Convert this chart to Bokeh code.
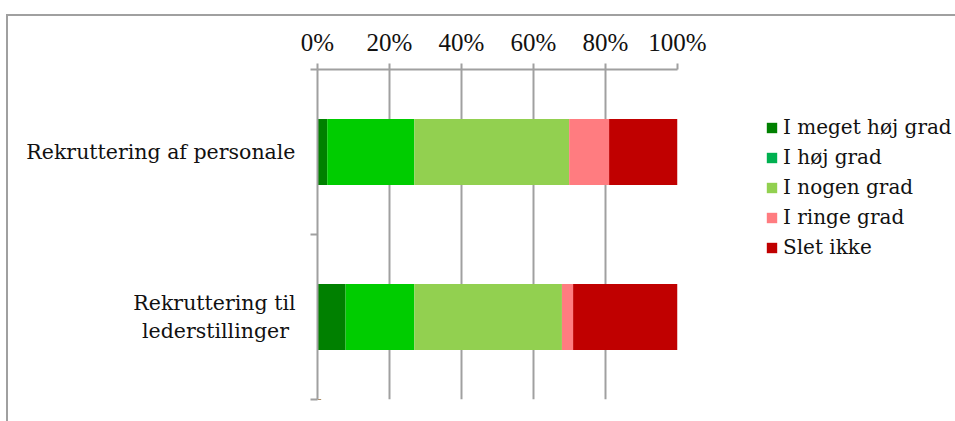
from bokeh.plotting import figure
from bokeh.models import (Range1d, LinearAxis, FixedTicker, Legend, LegendItem, Grid)
from bokeh.embed import file_html
from bokeh.resources import INLINE

# ---- data ----
categories = ["Rekruttering til\nlederstillinger\u00a0", "Rekruttering af personale"]
series = ["I meget høj grad", "I høj grad", "I nogen grad", "I ringe grad", "Slet ikke"]
meget_hoej = [7.8, 2.7]
hoej = [19.1, 24.2]
nogen = [41.0, 43.0]
ringe = [3.1, 11.1]
slet = [29.0, 19.0]
x_ticks = [0, 20, 40, 60, 80, 100]
x_tick_labels = ["0%", "20%", "40%", "60%", "80%", "100%"]

bar_colors = ["#008000", "#00CC00", "#92D050", "#FF7C80", "#C00000"]
legend_colors = ["#008000", "#00B050", "#92D050", "#FF7C80", "#C00000"]

SERIF_LBL = "DejaVu Serif"
SERIF_TICK = "Liberation Serif"

ypos = [0.5 + i for i in range(len(categories))]

p = figure(frame_width=360, frame_height=330,
           x_range=Range1d(0, 100), y_range=Range1d(0, 2),
           output_backend="svg", toolbar_location=None,
           x_axis_location=None, y_axis_location=None,
           min_border_left=309, min_border_right=280,
           min_border_top=53, min_border_bottom=25)
p.outline_line_color = None
p.background_fill_color = "white"
p.border_fill_color = "white"
p.xgrid.visible = False
p.ygrid.visible = False

# vertical gridlines (behind bars)
g = Grid(dimension=0, ticker=FixedTicker(ticks=x_ticks))
g.grid_line_color = "#a0a0a0"
g.grid_line_width = 2
g.level = "underlay"
p.add_layout(g)

data = dict(y=ypos, meget=meget_hoej, hoej=hoej, nogen=nogen, ringe=ringe, slet=slet)
keys = ["meget", "hoej", "nogen", "ringe", "slet"]
p.hbar_stack(keys, y="y", height=0.4, color=bar_colors, source=data, line_color=None)

# top axis
xa = LinearAxis(ticker=FixedTicker(ticks=x_ticks))
xa.major_label_overrides = {t: l for t, l in zip(x_ticks, x_tick_labels)}
xa.axis_line_color = "#a0a0a0"
xa.axis_line_width = 2
xa.major_tick_line_color = "#a0a0a0"
xa.major_tick_line_width = 2
xa.major_tick_out = 6
xa.major_tick_in = 0
xa.minor_tick_line_color = None
xa.major_label_text_font = SERIF_TICK
xa.major_label_text_font_size = "25px"
xa.major_label_text_color = "#111111"
xa.major_label_standoff = 8
p.add_layout(xa, "above")

# left axis
ya = LinearAxis(ticker=FixedTicker(ticks=ypos, minor_ticks=[0, 1, 2]))
ya.major_label_overrides = {y: c for y, c in zip(ypos, categories)}
ya.axis_line_color = "#a0a0a0"
ya.axis_line_width = 2
ya.major_tick_line_color = None
ya.major_tick_out = 0
ya.major_tick_in = 0
ya.minor_tick_line_color = "#a0a0a0"
ya.minor_tick_line_width = 2
ya.minor_tick_out = 7
ya.minor_tick_in = 0
ya.major_label_text_font = SERIF_LBL
ya.major_label_text_font_size = "20.5px"
ya.major_label_text_color = "#111111"
ya.major_label_standoff = 15
ya.major_label_orientation = "horizontal"
p.add_layout(ya, "left")

# legend: swatch renderers placed outside the visible y range
items = []
for name, col in zip(series, legend_colors):
    r = p.hbar(y=[-10], right=[1], height=0.4, fill_color=col, line_color=None)
    items.append(LegendItem(label=name, renderers=[r]))
leg = Legend(items=items, location=(88, 140))
leg.glyph_width = 13
leg.glyph_height = 13
leg.label_standoff = 5
leg.label_height = 24
leg.spacing = 6
leg.padding = 0
leg.margin = 0
leg.border_line_color = None
leg.background_fill_alpha = 0
leg.label_text_font = SERIF_LBL
leg.label_text_font_size = "20px"
leg.label_text_color = "#111111"
p.add_layout(leg, "right")

p.styles = {"margin-left": "6px", "margin-top": "14px",
            "border-left": "2px solid #a0a0a0", "border-top": "2px solid #a0a0a0"}

open("out.html", "w").write(file_html(p, INLINE))
